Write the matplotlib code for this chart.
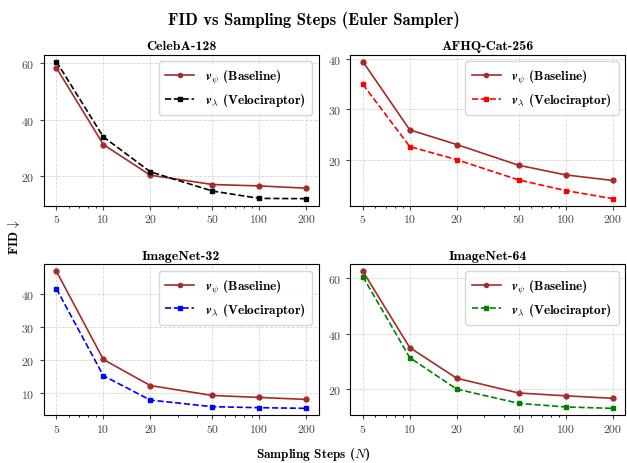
import numpy as np
import matplotlib
matplotlib.use("Agg")
import matplotlib.pyplot as plt
from matplotlib.ticker import FixedLocator, NullFormatter

plt.rcParams['font.family'] = 'cmr10'
plt.rcParams['mathtext.fontset'] = 'cm'
plt.rcParams['axes.formatter.use_mathtext'] = True

steps = [5, 10, 20, 50, 100, 200]
datasets = ['CelebA-128', 'AFHQ-Cat-256', 'ImageNet-32', 'ImageNet-64']
baseline = {
    'CelebA-128': [58.3, 31.2, 20.4, 17.1, 16.6, 15.8],
    'AFHQ-Cat-256': [39.4, 25.9, 23.0, 18.9, 17.0, 15.9],
    'ImageNet-32': [47.0, 20.3, 12.4, 9.4, 8.8, 8.2],
    'ImageNet-64': [62.4, 35.0, 24.0, 18.7, 17.7, 16.8],
}
velociraptor = {
    'CelebA-128': [60.5, 33.9, 21.6, 14.8, 12.2, 12.1],
    'AFHQ-Cat-256': [34.9, 22.6, 20.0, 16.0, 13.9, 12.3],
    'ImageNet-32': [41.7, 15.4, 8.0, 6.0, 5.7, 5.5],
    'ImageNet-64': [60.5, 31.4, 20.1, 15.0, 13.7, 13.2],
}
velo_colors = ['black', 'red', 'blue', 'green']
yticks = [[20, 40, 60], [20, 30, 40], [10, 20, 30, 40], [20, 40, 60]]

fig, axes = plt.subplots(2, 2, figsize=(6.27, 4.64), dpi=100)
fig.subplots_adjust(left=0.07, right=0.997, top=0.88, bottom=0.103, wspace=0.115, hspace=0.39)

for i, name in enumerate(datasets):
    ax = axes.flat[i]
    ax.plot(steps, baseline[name], '-o', color='#a52a2a', ms=3.5, lw=1.2,
            label=r'$\mathbfit{v}_\psi$ (Baseline)')
    ax.plot(steps, velociraptor[name], '--s', color=velo_colors[i], ms=3.5, lw=1.2,
            label=r'$\mathbfit{v}_\lambda$ (Velociraptor)')
    ax.set_xscale('log')
    ax.xaxis.set_major_locator(FixedLocator(steps))
    ax.set_xticklabels([str(s) for s in steps])
    ax.xaxis.set_minor_formatter(NullFormatter())
    ax.set_yticks(yticks[i])
    ax.tick_params(labelsize=8.5, colors='#444444', length=3)
    ax.tick_params(which='minor', length=1.5)
    ax.grid(True, which='major', linestyle='--', color='#cccccc', lw=0.6, alpha=0.8)
    ax.set_title(name, fontfamily='cmb10', fontsize=10, pad=4)
    ax.legend(loc='upper right', prop={'family': 'cmb10', 'size': 9.5},
              handlelength=2.2, borderpad=0.5, labelspacing=0.4, markerscale=0.85)

fig.suptitle('FID vs Sampling Steps (Euler Sampler)', fontfamily='cmb10', fontsize=12, y=0.975)
fig.text(0.022, 0.49, r'FID$\,\downarrow$', rotation=90, fontfamily='cmb10', fontsize=9.5,
         ha='center', va='center')
fig.text(0.5, 0.02, r'Sampling Steps ($N$)', fontfamily='cmb10', fontsize=9.5,
         ha='center', va='center')

fig.savefig('out.png', dpi=100)
